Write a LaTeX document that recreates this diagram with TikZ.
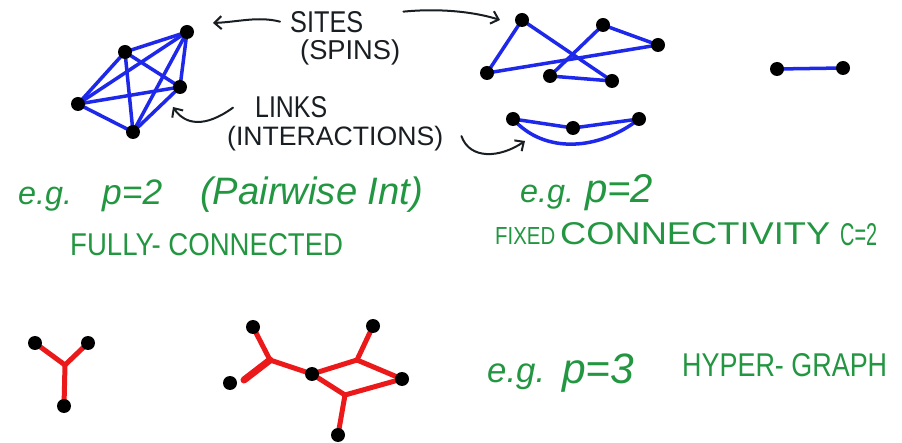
\documentclass[tikz,border=0pt]{standalone}
\usepackage{graphicx}
\usepackage{fontspec}
\setmainfont{Liberation Sans}
\usetikzlibrary{arrows.meta,backgrounds}
\definecolor{gblue}{RGB}{30,40,235}
\definecolor{ggreen}{RGB}{35,150,65}
\definecolor{gred}{RGB}{235,25,25}
\definecolor{ink}{RGB}{25,30,35}
\begin{document}
\begin{tikzpicture}[x=1pt,y=-1pt,
  dot/.style={circle,fill=black,inner sep=0pt,minimum size=14pt},
  blink/.style={gblue,line width=3.5pt,line cap=round},
  rlink/.style={gred,line width=5pt,line cap=round},
  lbl/.style={ink,font=\fontsize{20}{22}\selectfont,inner sep=0pt,anchor=base west},
  glbl/.style={ggreen,font=\fontsize{20}{22}\selectfont,inner sep=0pt,anchor=base west},
  pointer/.style={ink,line width=2pt,line cap=round,-{Straight Barb[length=7pt,width=13pt,line width=2pt]}}]
\useasboundingbox (0,0) rectangle (902,443);
\begin{scope}[on background layer]
  \fill[white] (0,0) rectangle (902,443);
\end{scope}

% fully connected graph
\node[dot] (a) at (187,32) {};
\node[dot] (b) at (125,52) {};
\node[dot] (c) at (180,87) {};
\node[dot] (d) at (78,104) {};
\node[dot] (e) at (133,132) {};
\begin{scope}[on background layer]
  \foreach \u/\v in {a/b,a/c,a/d,a/e,b/c,b/d,b/e,c/d,c/e,d/e}
    \draw[blink] (\u.center) -- (\v.center);
\end{scope}

% fixed connectivity graph
\node[dot] (p1) at (522,20) {};
\node[dot] (p2) at (603,25) {};
\node[dot] (p3) at (658,45) {};
\node[dot] (p4) at (487,73) {};
\node[dot] (p5) at (550,76) {};
\node[dot] (p6) at (612,81) {};
\begin{scope}[on background layer]
  \foreach \u/\v in {p1/p4,p1/p6,p4/p3,p2/p5,p2/p3,p5/p6}
    \draw[blink] (\u.center) -- (\v.center);
\end{scope}

% single pair
\node[dot] (s1) at (777,69) {};
\node[dot] (s2) at (843,68) {};
\begin{scope}[on background layer]
  \draw[blink] (s1.center) -- (s2.center);
\end{scope}

% chain with double link
\node[dot] (q1) at (513,119) {};
\node[dot] (q2) at (573,128) {};
\node[dot] (q3) at (639,119) {};
\begin{scope}[on background layer]
  \draw[blink] (q1.center) -- (q2.center) -- (q3.center);
  \draw[blink] (q1.center) .. controls (545,155) and (600,150) .. (q3.center);
\end{scope}

% labels
\node[lbl] (sites) at (290,33) {\resizebox{73pt}{21pt}{SITES}};
\node[lbl] (spins) at (300,60) {\resizebox{100pt}{!}{(SPINS)}};
\node[lbl] (links) at (255,118) {\resizebox{72pt}{21pt}{LINKS}};
\node[lbl] (inter) at (227,146) {\resizebox{216pt}{!}{(INTERACTIONS)}};

\coordinate (t1) at (213,23);
\coordinate (t2) at (500,20);
\coordinate (t3) at (173,107);
\coordinate (t4) at (525,141);
\draw[pointer] (sites.west) ++(-10,-1) .. controls (258,16) and (238,22) .. (t1);
\draw[pointer] (sites.east) ++(40,-11) .. controls (440,8) and (475,12) .. (t2);
\draw[pointer] (links.west) ++(-22,0) .. controls (205,128) and (185,125) .. (t3);
\draw[pointer] (inter.east) ++(18,-3) .. controls (470,160) and (500,158) .. (t4);

% green texts
\node[glbl] (eg1) at (18,205) {\resizebox{54pt}{!}{\itshape e.g.}};
\node[glbl] (pp1) at (102,205) {\resizebox{60pt}{!}{\itshape p=2}};
\node[glbl] (pw) at (200,205) {\resizebox{223pt}{!}{\itshape (Pairwise Int)}};
\node[glbl] (fc) at (70,256) {\resizebox{273pt}{22pt}{FULLY- CONNECTED}};

\node[glbl] (eg2) at (520,203) {\resizebox{54pt}{!}{\itshape e.g.}};
\node[glbl] (pp2) at (585,203) {\resizebox{68pt}{!}{\itshape p=2}};
\node[glbl] (fx) at (495,245) {\resizebox{60pt}{17pt}{FIXED}};
\node[glbl] (cn) at (560,245) {\resizebox{270pt}{22pt}{CONNECTIVITY}};
\node[glbl] (c2) at (840,246) {\resizebox{37pt}{22pt}{C=2}};

\node[glbl] (eg3) at (487,383) {\resizebox{58pt}{!}{\itshape e.g.}};
\node[glbl] (pp3) at (562,383) {\resizebox{72pt}{!}{\itshape p=3}};
\node[glbl] (hg) at (682,377) {\resizebox{205pt}{23pt}{HYPER- GRAPH}};

% Y hyperedge
\node[dot] (y1) at (35,343) {};
\node[dot] (y2) at (88,343) {};
\node[dot] (y3) at (64,406) {};
\coordinate (yc) at (65,365);
\begin{scope}[on background layer]
  \draw[rlink] (y1.center) -- (yc) -- (y2.center);
  \draw[rlink] (yc) -- (y3.center);
\end{scope}

% hypergraph
\node[dot] (h1) at (253,327) {};
\node[dot] (h2) at (230,383) {};
\node[dot] (h3) at (312,374) {};
\node[dot] (h4) at (373,326) {};
\node[dot] (h5) at (402,379) {};
\node[dot] (h6) at (338,435) {};
\coordinate (j1) at (270,360);
\coordinate (j2) at (357,360);
\coordinate (j3) at (345,395);
\begin{scope}[on background layer]
  \draw[rlink] (h1.center) -- (j1) -- (h3.center);
  \draw[rlink,line width=7pt] (j1) -- (244,380);
  \draw[rlink] (h3.center) -- (j2) -- (h4.center);
  \draw[rlink] (j2) -- (h5.center);
  \draw[rlink] (h3.center) -- (j3) -- (h5.center);
  \draw[rlink] (j3) -- (h6.center);
\end{scope}
\end{tikzpicture}
\end{document}
